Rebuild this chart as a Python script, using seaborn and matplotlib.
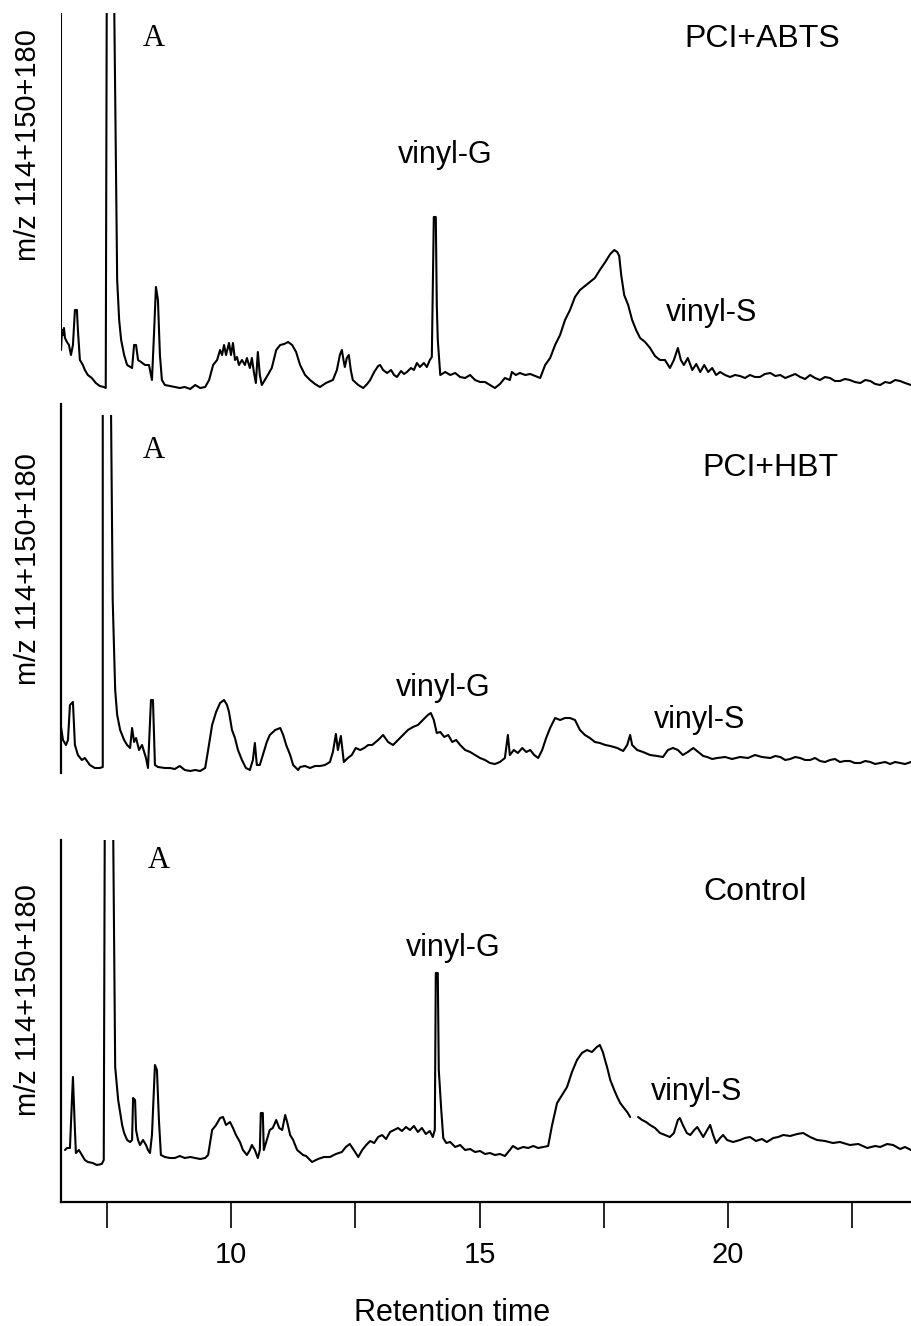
import matplotlib
matplotlib.use("Agg")
import matplotlib.pyplot as plt
import pandas as pd
import seaborn as sns

# Retention time (min) and signal (arbitrary units).
# Values above the panel top are off-scale peaks (clipped by the axes).

ABTS_T = [6.58, 6.58, 6.60, 6.62, 6.64, 6.66, 6.70, 6.74, 6.78, 6.82, 6.86, 6.90, 6.92, 6.96,
          7.02, 7.06, 7.12, 7.20, 7.28, 7.36, 7.44, 7.48, 7.50, 7.65, 7.69, 7.71, 7.75, 7.79,
          7.85, 7.91, 8.01, 8.05, 8.09, 8.13, 8.19, 8.27, 8.35, 8.41, 8.45, 8.49, 8.53, 8.57,
          8.61, 8.67, 8.77, 8.87, 8.97, 9.07, 9.18, 9.28, 9.38, 9.48, 9.56, 9.64, 9.72, 9.78,
          9.82, 9.86, 9.90, 9.96, 10.00, 10.04, 10.08, 10.12, 10.16, 10.22, 10.28, 10.32, 10.38,
          10.42, 10.46, 10.50, 10.54, 10.58, 10.62, 10.68, 10.74, 10.82, 10.91, 10.99, 11.07,
          11.15, 11.23, 11.31, 11.39, 11.49, 11.59, 11.69, 11.79, 11.91, 12.05, 12.13, 12.19,
          12.23, 12.27, 12.29, 12.33, 12.37, 12.41, 12.45, 12.56, 12.66, 12.74, 12.80, 12.88,
          12.96, 13.00, 13.06, 13.14, 13.22, 13.28, 13.34, 13.42, 13.48, 13.54, 13.62, 13.68,
          13.74, 13.80, 13.88, 13.94, 14.00, 14.04, 14.08, 14.12, 14.14, 14.16, 14.21, 14.31,
          14.41, 14.51, 14.61, 14.71, 14.81, 14.91, 15.01, 15.11, 15.21, 15.31, 15.41, 15.51,
          15.61, 15.65, 15.73, 15.81, 15.92, 16.02, 16.12, 16.22, 16.32, 16.42, 16.52, 16.62,
          16.72, 16.82, 16.92, 17.02, 17.12, 17.22, 17.32, 17.42, 17.53, 17.63, 17.71, 17.77,
          17.81, 17.85, 17.91, 17.99, 18.07, 18.15, 18.23, 18.33, 18.43, 18.53, 18.63, 18.73,
          18.83, 18.91, 18.99, 19.05, 19.11, 19.19, 19.28, 19.36, 19.44, 19.52, 19.60, 19.68,
          19.76, 19.84, 19.94, 20.04, 20.14, 20.24, 20.34, 20.44, 20.54, 20.64, 20.74, 20.85,
          20.95, 21.05, 21.15, 21.25, 21.35, 21.45, 21.55, 21.65, 21.75, 21.85, 21.95, 22.05,
          22.15, 22.25, 22.35, 22.45, 22.55, 22.66, 22.76, 22.86, 22.96, 23.06, 23.16, 23.26,
          23.36, 23.46, 23.56, 23.68]
ABTS_I = [390, 42, 62, 57, 64, 54, 50, 47, 37, 47, 82, 82, 62, 32,
          27, 22, 17, 14, 9, 6, 5, 4, 390, 390, 209, 112, 72, 52,
          37, 27, 24, 47, 47, 32, 30, 27, 27, 12, 57, 105, 92, 37,
          12, 7, 6, 5, 4, 5, 3, 7, 4, 5, 12, 27, 32, 42,
          37, 47, 37, 49, 37, 49, 32, 35, 27, 32, 27, 34, 24,
          34, 20, 9, 40, 17, 7, 12, 17, 24, 42, 47, 48,
          50, 47, 40, 27, 17, 12, 8, 5, 9, 12, 22, 37,
          42, 30, 25, 34, 37, 22, 12, 7, 4, 8, 12, 20,
          26, 27, 22, 19, 22, 17, 15, 21, 18, 20, 24, 22,
          29, 25, 29, 25, 32, 35, 175, 175, 87, 52, 17, 20,
          17, 19, 15, 14, 17, 12, 10, 10, 7, 4, 8, 14,
          12, 20, 17, 19, 17, 18, 16, 14, 27, 34, 47, 57,
          72, 82, 95, 102, 106, 110, 114, 122, 130, 138, 142, 140,
          136, 117, 97, 87, 72, 62, 54, 50, 44, 36, 32, 32,
          24, 32, 44, 32, 27, 34, 22, 28, 20, 27, 20, 24,
          17, 20, 17, 15, 17, 16, 14, 17, 15, 15, 18, 19,
          16, 17, 14, 16, 18, 15, 13, 17, 14, 12, 15, 14,
          11, 11, 13, 12, 10, 9, 12, 11, 8, 7, 10, 9,
          12, 11, 9, 7]

HBT_T = [6.58, 6.62, 6.68, 6.72, 6.76, 6.82, 6.86, 6.92, 7.00, 7.06, 7.16, 7.26, 7.36, 7.42,
         7.42, 7.58, 7.62, 7.67, 7.71, 7.77, 7.85, 7.91, 7.97, 8.01, 8.05, 8.09, 8.15, 8.21,
         8.29, 8.33, 8.39, 8.43, 8.47, 8.53, 8.67, 8.77, 8.87, 8.97, 9.07, 9.18, 9.28, 9.38,
         9.48, 9.54, 9.62, 9.70, 9.78, 9.86, 9.92, 9.96, 10.02, 10.08, 10.14, 10.22, 10.30,
         10.38, 10.44, 10.48, 10.52, 10.58, 10.64, 10.72, 10.78, 10.89, 10.99, 11.05, 11.11,
         11.19, 11.25, 11.35, 11.39, 11.49, 11.59, 11.69, 11.79, 11.89, 11.99, 12.05, 12.11,
         12.15, 12.21, 12.27, 12.35, 12.43, 12.51, 12.60, 12.68, 12.76, 12.84, 12.96, 13.06,
         13.16, 13.26, 13.36, 13.46, 13.56, 13.66, 13.76, 13.86, 13.96, 14.02, 14.08, 14.14,
         14.21, 14.29, 14.37, 14.45, 14.53, 14.61, 14.71, 14.81, 14.91, 15.01, 15.11, 15.21,
         15.31, 15.41, 15.51, 15.57, 15.61, 15.69, 15.77, 15.86, 15.94, 16.02, 16.10, 16.18,
         16.26, 16.34, 16.42, 16.52, 16.62, 16.72, 16.82, 16.92, 17.02, 17.12, 17.22, 17.32,
         17.42, 17.53, 17.63, 17.77, 17.89, 17.97, 18.03, 18.07, 18.17, 18.29, 18.43, 18.57,
         18.69, 18.79, 18.89, 18.99, 19.09, 19.19, 19.30, 19.40, 19.50, 19.58, 19.68, 19.78,
         19.94, 20.08, 20.24, 20.40, 20.54, 20.68, 20.85, 20.95, 21.05, 21.15, 21.25, 21.35,
         21.45, 21.55, 21.65, 21.75, 21.85, 21.95, 22.05, 22.15, 22.25, 22.35, 22.45, 22.55,
         22.66, 22.76, 22.86, 22.96, 23.06, 23.16, 23.26, 23.36, 23.46, 23.56, 23.68]
HBT_I = [48, 35, 30, 35, 70, 73, 30, 20, 15, 17, 10, 7, 7, 8,
         400, 400, 175, 85, 60, 45, 35, 30, 27, 47, 33, 37, 25, 30,
         17, 7, 75, 75, 10, 8, 7, 7, 6, 9, 5, 4, 5, 4,
         7, 25, 50, 63, 72, 75, 70, 63, 45, 37, 25, 15, 7,
         5, 15, 32, 10, 10, 20, 33, 40, 45, 47, 40, 30,
         20, 10, 5, 8, 9, 7, 9, 9, 10, 13, 23, 41,
         25, 39, 13, 17, 20, 27, 25, 27, 30, 30, 35, 40,
         33, 30, 35, 40, 45, 48, 50, 55, 60, 62, 55, 42,
         43, 38, 40, 33, 35, 30, 25, 23, 20, 17, 15, 12,
         11, 13, 17, 40, 20, 25, 22, 27, 23, 25, 20, 17,
         25, 37, 47, 57, 55, 57, 57, 55, 45, 40, 37, 33,
         32, 30, 29, 27, 24, 30, 40, 30, 25, 23, 20, 19,
         18, 25, 27, 25, 20, 23, 27, 23, 19, 18, 16, 17,
         18, 16, 18, 17, 20, 18, 17, 19, 18, 15, 16, 18,
         17, 15, 15, 17, 14, 13, 15, 16, 13, 14, 14, 12,
         12, 14, 13, 11, 12, 13, 11, 13, 12, 11, 13]

CONTROL_T = [6.66, 6.70, 6.76, 6.80, 6.82, 6.86, 6.88, 6.94, 7.00, 7.06, 7.12, 7.22, 7.30, 7.40,
             7.44, 7.46, 7.63, 7.67, 7.73, 7.81, 7.85, 7.91, 7.97, 8.01, 8.03, 8.07, 8.09, 8.13,
             8.17, 8.23, 8.29, 8.33, 8.37, 8.41, 8.47, 8.51, 8.55, 8.59, 8.67, 8.77, 8.87, 8.97,
             9.07, 9.18, 9.28, 9.38, 9.48, 9.54, 9.62, 9.70, 9.78, 9.84, 9.90, 9.98, 10.04, 10.10,
             10.18, 10.24, 10.32, 10.38, 10.42, 10.48, 10.54, 10.58, 10.60, 10.64, 10.66, 10.72,
             10.78, 10.84, 10.91, 10.97, 11.03, 11.09, 11.13, 11.19, 11.25, 11.33, 11.45, 11.51,
             11.63, 11.75, 11.87, 11.99, 12.11, 12.23, 12.31, 12.39, 12.47, 12.56, 12.64, 12.72,
             12.80, 12.88, 12.96, 13.04, 13.12, 13.20, 13.28, 13.36, 13.44, 13.52, 13.60, 13.68,
             13.76, 13.84, 13.92, 14.00, 14.06, 14.10, 14.12, 14.16, 14.18, 14.23, 14.27, 14.33,
             14.41, 14.51, 14.61, 14.71, 14.81, 14.91, 15.01, 15.11, 15.21, 15.31, 15.41, 15.51,
             15.61, 15.67, 15.77, 15.88, 15.98, 16.08, 16.18, 16.28, 16.38, 16.46, 16.56, 16.66,
             16.76, 16.86, 16.96, 17.06, 17.16, 17.26, 17.36, 17.42, 17.48, 17.57, 17.63, 17.71,
             17.77, 17.83, 17.89, 17.97, 18.03,
             18.19, 18.27, 18.35, 18.43, 18.53, 18.63, 18.73, 18.83, 18.91, 18.99, 19.03, 19.09,
             19.17, 19.24, 19.32, 19.38, 19.44, 19.50, 19.58, 19.64, 19.70, 19.76, 19.84, 19.90,
             19.98, 20.10, 20.24, 20.34, 20.44, 20.56, 20.68, 20.78, 20.91, 21.01, 21.11, 21.25,
             21.39, 21.51, 21.65, 21.79, 21.95, 22.11, 22.25, 22.45, 22.62, 22.80, 22.96, 23.06,
             23.20, 23.32, 23.46, 23.56, 23.68]
CONTROL_I = [52, 54, 54, 102, 125, 72, 49, 52, 47, 42, 40, 39, 37, 38,
             42, 370, 370, 135, 102, 77, 69, 62, 60, 62, 104, 102, 72, 62,
             57, 62, 57, 52, 49, 67, 137, 132, 82, 47, 45, 44, 44, 46,
             44, 45, 44, 43, 44, 47, 72, 77, 84, 85, 77, 80, 74, 67,
             60, 52, 47, 52, 57, 52, 44, 52, 89, 89, 52, 62,
             72, 74, 82, 74, 72, 87, 80, 67, 62, 52, 47, 46,
             40, 43, 45, 45, 48, 50, 55, 58, 52, 45, 52, 57,
             61, 59, 65, 67, 63, 70, 72, 74, 71, 75, 72, 76,
             70, 74, 68, 71, 65, 72, 229, 229, 132, 92, 64, 59,
             60, 55, 57, 52, 53, 50, 51, 48, 49, 47, 48, 46,
             52, 56, 53, 55, 54, 56, 54, 55, 56, 77, 99, 107,
             115, 130, 142, 149, 152, 150, 155, 157, 150, 134, 122, 112,
             105, 99, 95, 90, 85,
             85, 82, 80, 77, 74, 69, 67, 65, 69, 82, 84, 77,
             69, 67, 72, 75, 70, 65, 72, 77, 67, 59, 64, 67,
             62, 60, 62, 64, 65, 61, 63, 60, 64, 65, 67, 66,
             68, 69, 65, 62, 61, 59, 60, 57, 58, 54, 56, 55,
             58, 57, 53, 55, 52]
CONTROL_GAP = 18.1  # the control trace has a small break here

PANEL_NAMES = ["PCI+ABTS", "PCI+HBT", "Control"]
PANEL_YMAX = [379, 360, 362]
Y_LABEL = "m/z 114+150+180"
X_LABEL = "Retention time"
X_TICKS = [7.5, 10, 12.5, 15, 17.5, 20, 22.5]
X_TICK_LABELS = ["", "10", "", "15", "", "20", ""]
X_RANGE = (6.58, 23.68)

sns.set_theme(style="white")
plt.rcParams["font.family"] = ["Liberation Sans", "DejaVu Sans"]
plt.rcParams["text.color"] = "black"
plt.rcParams["xtick.color"] = "black"
plt.rcParams["xtick.labelcolor"] = "black"

W, H = 911, 1326
fig = plt.figure(figsize=(W / 100, H / 100), dpi=100)


def fx(px):
    return px / W


def fy(py):
    return 1 - py / H


# panel boxes in pixel rows (top, bottom); the middle trace is cut off at 415
boxes = [(13, 392), (415, 775), (840, 1202)]
axes = []
for top, bottom in boxes:
    ax = fig.add_axes([fx(61), fy(bottom), fx(911) - fx(61), (bottom - top) / H])
    ax.set_facecolor("none")
    axes.append(ax)

abts = pd.DataFrame({"t": ABTS_T, "signal": ABTS_I})
hbt = pd.DataFrame({"t": HBT_T, "signal": HBT_I})
control = pd.DataFrame({"t": CONTROL_T, "signal": CONTROL_I})
control["seg"] = (control["t"] > CONTROL_GAP).astype(int)

line_kw = dict(color="black", linewidth=1.5, estimator=None, sort=False)
sns.lineplot(data=abts, x="t", y="signal", ax=axes[0], **line_kw)
sns.lineplot(data=hbt, x="t", y="signal", ax=axes[1], **line_kw)
sns.lineplot(data=control, x="t", y="signal", units="seg", ax=axes[2], **line_kw)

for ax, ymax in zip(axes, PANEL_YMAX):
    ax.set_xlim(*X_RANGE)
    ax.set_ylim(0, ymax)
    ax.set_xlabel("")
    ax.set_ylabel("")
    ax.set_yticks([])
    for side in ["top", "right", "bottom", "left"]:
        ax.spines[side].set_visible(False)
    if ax is not axes[2]:
        ax.set_xticks([])

# middle panel: left rule only (reaching a bit above the clipped peak),
# bottom panel: L-shaped frame
axes[1].spines["left"].set_visible(True)
axes[1].spines["left"].set_bounds(2, 371)
for side in ["left", "bottom"]:
    axes[2].spines[side].set_visible(True)
for ax in axes[1:]:
    for sp in ax.spines.values():
        sp.set_color("black")
        sp.set_linewidth(1.6)

axes[2].set_xticks(X_TICKS)
axes[2].set_xticklabels(X_TICK_LABELS)
axes[2].tick_params(axis="x", direction="out", length=19, width=1.2, color="black",
                    pad=9, labelsize=21, bottom=True)

# texts
for yc in [145, 569, 1000]:
    fig.text(fx(28), fy(yc), Y_LABEL, rotation=90, ha="center", va="center", fontsize=21)

for (x, y) in [(154, 39), (154, 450), (159, 860)]:
    fig.text(fx(x), fy(y), "A", ha="center", va="center", fontsize=22,
             family=["Liberation Serif", "DejaVu Serif"])

for name, (x, y) in zip(PANEL_NAMES, [(762, 39), (770, 468), (755, 892)]):
    fig.text(fx(x), fy(y), name, ha="center", va="center", fontsize=23)

for (x, y) in [(445, 155), (443, 688), (453, 948)]:
    fig.text(fx(x), fy(y), "vinyl-G", ha="center", va="center", fontsize=22)

for (x, y) in [(712, 313), (700, 720), (697, 1092)]:
    fig.text(fx(x), fy(y), "vinyl-S", ha="center", va="center", fontsize=22)

fig.text(fx(452), fy(1313), X_LABEL, ha="center", va="center", fontsize=22)

fig.savefig("out.png", dpi=100)
